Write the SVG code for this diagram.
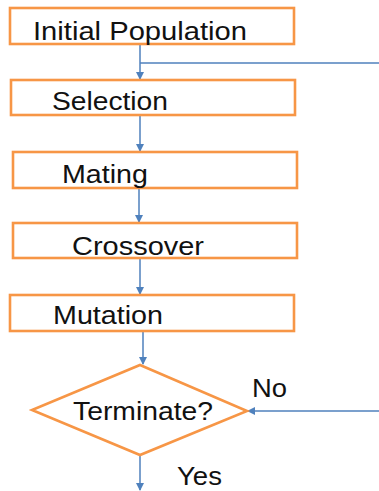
<svg xmlns="http://www.w3.org/2000/svg" width="379" height="491" viewBox="0 0 379 491">
  <style>
    .box { fill: #ffffff; stroke: #F79646; stroke-width: 2.6; }
    .lbl { font-family: "Liberation Sans", Arial, sans-serif; font-size: 25px; fill: #111111; }
    .wire { fill: none; stroke: #4F81BD; stroke-width: 1.5; }
  </style>
  <defs>
    <marker id="arrow" viewBox="0 0 8 8" refX="7" refY="4" markerWidth="8" markerHeight="8" markerUnits="userSpaceOnUse" orient="auto">
      <path d="M0,0 L8,4 L0,8 z" fill="#4F81BD"/>
    </marker>
  </defs>
  <rect width="379" height="491" fill="#ffffff"/>

  <g id="connectors">
    <path class="wire" d="M140,44 V79" marker-end="url(#arrow)"/>
    <path class="wire" d="M140,63 H379"/>
    <path class="wire" d="M140,115 V151" marker-end="url(#arrow)"/>
    <path class="wire" d="M139,188 V222" marker-end="url(#arrow)"/>
    <path class="wire" d="M140,258 V294" marker-end="url(#arrow)"/>
    <path class="wire" d="M143,331 V364" marker-end="url(#arrow)"/>
    <path class="wire" d="M379,411 H248" marker-end="url(#arrow)"/>
    <path class="wire" d="M140,455 V490" marker-end="url(#arrow)"/>
  </g>

  <g id="initial-population">
    <rect class="box" x="10" y="8" width="284" height="36"/>
    <text class="lbl" x="33" y="40" textLength="214" lengthAdjust="spacingAndGlyphs">Initial Population</text>
  </g>
  <g id="selection">
    <rect class="box" x="11" y="80" width="284" height="35"/>
    <text class="lbl" x="52" y="110" textLength="116" lengthAdjust="spacingAndGlyphs">Selection</text>
  </g>
  <g id="mating">
    <rect class="box" x="13" y="152" width="284" height="36"/>
    <text class="lbl" x="62" y="182.5" textLength="86" lengthAdjust="spacingAndGlyphs">Mating</text>
  </g>
  <g id="crossover">
    <rect class="box" x="13" y="223" width="284" height="35"/>
    <text class="lbl" x="72" y="255" textLength="132" lengthAdjust="spacingAndGlyphs">Crossover</text>
  </g>
  <g id="mutation">
    <rect class="box" x="10" y="295" width="284" height="36"/>
    <text class="lbl" x="53" y="324" textLength="110" lengthAdjust="spacingAndGlyphs">Mutation</text>
  </g>
  <g id="terminate">
    <polygon class="box" points="140,365 247,411 140,455 32,410"/>
    <text class="lbl" x="73" y="420" textLength="140" lengthAdjust="spacingAndGlyphs">Terminate?</text>
  </g>

  <g id="edge-labels">
    <text class="lbl" x="252" y="397" textLength="35" lengthAdjust="spacingAndGlyphs">No</text>
    <text class="lbl" x="177" y="485" textLength="45" lengthAdjust="spacingAndGlyphs">Yes</text>
  </g>
</svg>
